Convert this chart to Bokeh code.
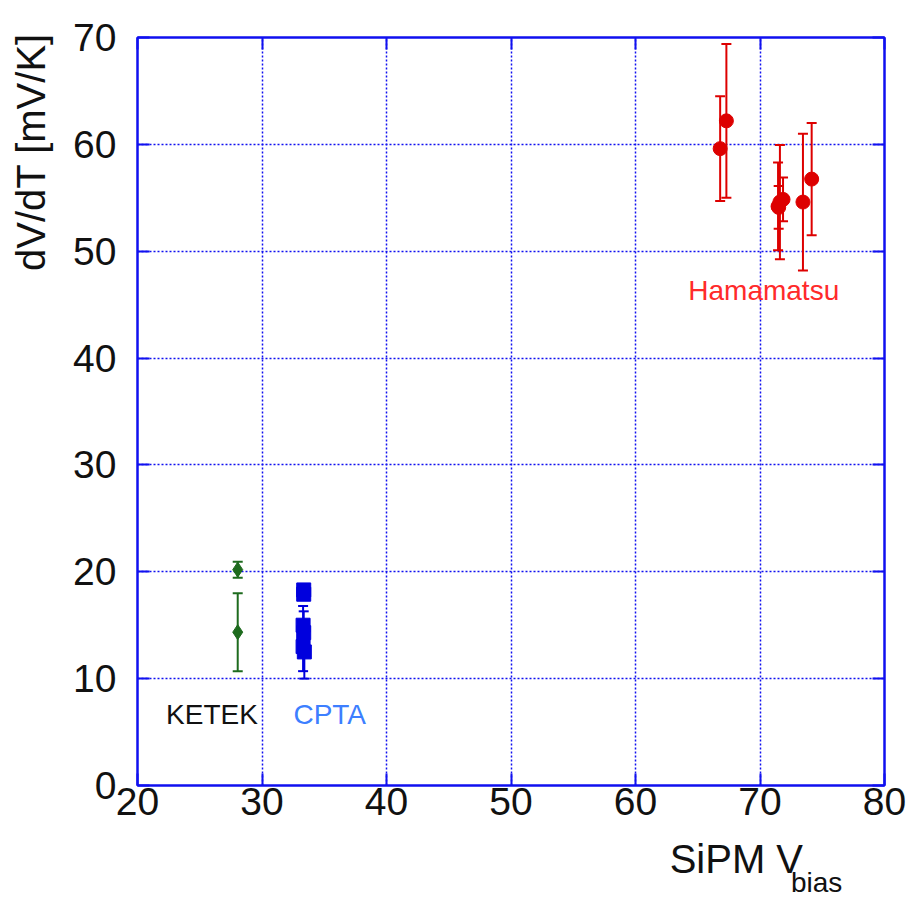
from math import pi
from bokeh.plotting import figure
from bokeh.layouts import row, column
from bokeh.models import (ColumnDataSource, Whisker, TeeHead, Label, LinearAxis,
                          Range1d, FixedTicker)
from bokeh.embed import file_html
from bokeh.resources import INLINE

# ---- data ----
ham_x = [66.8, 67.3, 71.45, 71.5, 71.6, 71.85, 73.45, 74.15]
ham_y = [59.6, 62.2, 54.2, 54.1, 54.6, 54.85, 54.6, 56.75]
ham_err = [4.9, 7.2, 4.1, 2.0, 5.35, 2.05, 6.4, 5.25]

ketek_x = [28.05, 28.05]
ketek_y = [20.2, 14.35]
ketek_err = [0.75, 3.65]

cpta_x = [33.35, 33.35, 33.3, 33.35, 33.3, 33.4]
cpta_y = [18.3, 17.9, 15.0, 14.3, 13.0, 12.5]
cpta_err = [0.3, 0.3, 1.8, 2.0, 2.3, 2.5]

x_ticks = [20, 30, 40, 50, 60, 70, 80]
y_ticks = [0, 10, 20, 30, 40, 50, 60, 70]

x_title = "SiPM V"
x_title_sub = "bias"
y_title = "dV/dT [mV/K]"

FONT = "Liberation Sans"
BLUE = "#1010f0"
TEXT = "#111111"

# ---- layout sizes (pixels) ----
YSTRIP_W = 70
P_LEFT, P_RIGHT, P_TOP, P_BOTTOM = 67, 24, 37, 51
FRAME_W, FRAME_H = 747, 748
P_W = P_LEFT + FRAME_W + P_RIGHT
P_H = P_TOP + FRAME_H + P_BOTTOM
TOTAL_H = 898
XSTRIP_H = TOTAL_H - P_H
MID = 0.3465  # where Bokeh anchors the text relative to its baseline (em)

p = figure(width=P_W, height=P_H,
           x_range=Range1d(20, 80), y_range=Range1d(0, 70),
           output_backend="svg", toolbar_location=None,
           min_border_left=P_LEFT, min_border_right=P_RIGHT,
           min_border_top=P_TOP, min_border_bottom=P_BOTTOM)
p.background_fill_color = "white"
p.border_fill_color = "white"
p.outline_line_color = BLUE
p.outline_line_width = 2

for g, t in ((p.xgrid, x_ticks), (p.ygrid, y_ticks)):
    g.ticker = FixedTicker(ticks=t)
    g.grid_line_color = BLUE
    g.grid_line_width = 1.5
    g.grid_line_dash = "2 2"


def style_axis(ax, ticks, show_labels=True, standoff=5):
    ax.ticker = FixedTicker(ticks=ticks)
    ax.axis_line_color = BLUE
    ax.axis_line_width = 2
    ax.major_tick_line_color = BLUE
    ax.major_tick_line_width = 2
    ax.major_tick_in = 12
    ax.major_tick_out = 0
    ax.minor_tick_line_color = None
    ax.major_label_standoff = standoff
    if show_labels:
        ax.major_label_text_font = FONT
        ax.major_label_text_font_size = "39px"
        ax.major_label_text_color = TEXT
    else:
        ax.major_label_text_font_size = "0px"
        ax.major_label_text_color = None


style_axis(p.xaxis[0], x_ticks, True, 2)
style_axis(p.yaxis[0], y_ticks, True, 21)

top_ax = LinearAxis()
style_axis(top_ax, x_ticks, False, 0)
p.add_layout(top_ax, "above")
right_ax = LinearAxis()
style_axis(right_ax, y_ticks, False, 0)
p.add_layout(right_ax, "right")


def add_series(xs, ys, errs, color, marker, size):
    src = ColumnDataSource(dict(x=xs, y=ys,
                                upper=[y + e for y, e in zip(ys, errs)],
                                lower=[y - e for y, e in zip(ys, errs)]))
    w = Whisker(source=src, base="x", upper="upper", lower="lower",
                dimension="height", line_color=color, line_width=2,
                upper_head=TeeHead(size=10, line_color=color, line_width=2),
                lower_head=TeeHead(size=10, line_color=color, line_width=2))
    p.add_layout(w)
    p.scatter("x", "y", source=src, marker=marker, size=size,
              fill_color=color, line_color=color)


add_series(ham_x, ham_y, ham_err, "#dd0000", "circle", 14)
add_series(ketek_x, ketek_y, ketek_err, "#1e6b1e", "diamond", 15)
add_series(cpta_x, cpta_y, cpta_err, "#0000dd", "square", 14)

p.add_layout(Label(x=70.3, y=46.35, text="Hamamatsu", text_color="#ff2a2a",
                   text_font=FONT, text_font_size="28px",
                   text_align="center", text_baseline="alphabetic"))
p.add_layout(Label(x=25.98, y=6.6, text="KETEK", text_color=TEXT,
                   text_font=FONT, text_font_size="28px",
                   text_align="center", text_baseline="alphabetic"))
p.add_layout(Label(x=35.44, y=6.6, text="CPTA", text_color="#3d7fff",
                   text_font=FONT, text_font_size="28px",
                   text_align="center", text_baseline="alphabetic"))


def strip(w, h):
    f = figure(width=w, height=h, x_range=Range1d(0, w), y_range=Range1d(0, h),
               min_border=0, toolbar_location=None, output_backend="svg",
               x_axis_location=None, y_axis_location=None)
    f.grid.visible = False
    f.outline_line_color = None
    f.background_fill_color = "white"
    f.border_fill_color = "white"
    return f


# y-axis title strip (pixel coordinates, origin bottom-left)
fy = strip(YSTRIP_W, TOTAL_H)
fy.add_layout(Label(x=30, y=TOTAL_H - 151.5, text=y_title, angle=pi / 2,
                    text_color=TEXT, text_font=FONT, text_font_size="40px",
                    text_align="center", text_baseline="alphabetic"))

# x-axis title strip (page y of the wanted baselines: 872 and 892)
fx = strip(P_W, XSTRIP_H)
fx.add_layout(Label(x=667 - YSTRIP_W, y=TOTAL_H + MID * 40 - 872, text=x_title,
                    text_color=TEXT, text_font=FONT, text_font_size="40px",
                    text_align="left", text_baseline="alphabetic"))
fx.add_layout(Label(x=803 - YSTRIP_W, y=TOTAL_H + MID * 28 - 892, text=x_title_sub,
                    text_color=TEXT, text_font=FONT, text_font_size="28px",
                    text_align="left", text_baseline="alphabetic"))

layout = row(fy, column(p, fx))
open("out.html", "w").write(file_html(layout, INLINE))
